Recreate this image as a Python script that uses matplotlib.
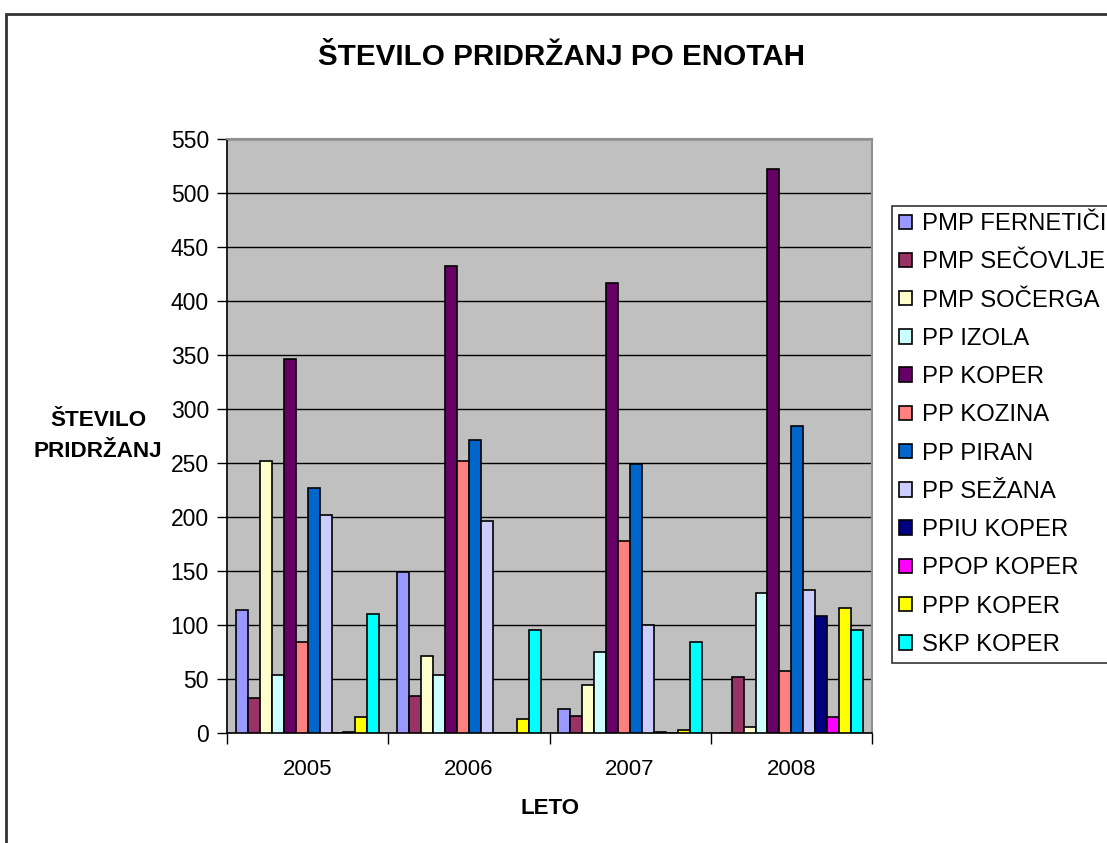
import numpy as np
import matplotlib
matplotlib.use('Agg')
from matplotlib import pyplot as plt
from matplotlib.patches import Rectangle

plt.rcParams['font.family'] = ['Liberation Sans', 'DejaVu Sans']

# Data

years = ['2005', '2006', '2007', '2008']
units = ['PMP FERNETIČI', 'PMP SEČOVLJE', 'PMP SOČERGA', 'PP IZOLA', 'PP KOPER', 'PP KOZINA',
         'PP PIRAN', 'PP SEŽANA', 'PPIU KOPER', 'PPOP KOPER', 'PPP KOPER', 'SKP KOPER']

fernetici = [114, 149, 22, 0]
secovlje = [32, 34, 16, 52]
socerga = [252, 71, 44, 6]
izola = [54, 54, 75, 130]
koper = [346, 432, 417, 522]
kozina = [84, 252, 178, 57]
piran = [227, 271, 249, 284]
sezana = [202, 196, 100, 132]
ppiu = [0, 0, 1, 108]
ppop = [1, 0, 0, 15]
ppp = [15, 13, 3, 116]
skp = [110, 95, 84, 95]

series = [fernetici, secovlje, socerga, izola, koper, kozina, piran, sezana, ppiu, ppop, ppp, skp]
colors = ['#9999FF', '#993366', '#FFFFCC', '#CCFFFF', '#660066', '#FF8080',
          '#0066CC', '#CCCCFF', '#000080', '#FF00FF', '#FFFF00', '#00FFFF']

# Figure

fig = plt.figure(figsize=(11.07, 8.43), dpi=100)
ax = fig.add_axes([227/1107, 1 - 733/843, (872 - 227)/1107, (733 - 139)/843])
ax.set_facecolor('#C0C0C0')

x = np.arange(len(years))
w = 1/13.5
for i in range(len(series)):
    ax.bar(x + (i - 5.5)*w, series[i], width=w, color=colors[i], edgecolor='black',
           linewidth=1.2, label=units[i], zorder=3)

ax.set_xlim(-0.5, 3.5)
ax.set_ylim(0, 550)
ax.set_yticks(np.arange(0, 551, 50))
ax.yaxis.grid(True, color='black', linewidth=1, zorder=1)

ax.set_xticks(np.arange(-0.5, 4, 1))
ax.set_xticklabels([])
ax.set_xticks(x, minor=True)
ax.set_xticklabels(years, minor=True)
ax.tick_params(axis='x', which='major', length=8, direction='out', width=1)
ax.tick_params(axis='x', which='minor', length=0, pad=19, labelsize=16)
ax.tick_params(axis='y', length=7, direction='out', width=1, labelsize=16.5, pad=6)

for s in ['top', 'right']:
    ax.spines[s].set_color('#909090')
    ax.spines[s].set_linewidth(1.5)
for s in ['left', 'bottom']:
    ax.spines[s].set_color('black')
    ax.spines[s].set_linewidth(1.2)

# Titles

fig.text(562/1107, 1 - 57/843, 'ŠTEVILO PRIDRŽANJ PO ENOTAH', ha='center', va='center',
         fontsize=21.3, fontweight='bold')
fig.text(98/1107, 1 - 436/843, 'ŠTEVILO\nPRIDRŽANJ', ha='center', va='center',
         fontsize=16.2, fontweight='bold', linespacing=1.6)
fig.text(550/1107, 1 - 808/843, 'LETO', ha='center', va='center', fontsize=16, fontweight='bold')

# Legend

lgd = fig.legend(loc='upper left', bbox_to_anchor=(892/1107, 1 - 206/843), fontsize=17.2,
                 frameon=True, fancybox=False, edgecolor='black', handlelength=0.55,
                 handleheight=0.55, handletextpad=0.4, labelspacing=0.68, borderpad=0.3,
                 borderaxespad=0)
lgd.get_frame().set_linewidth(1.2)

# Outer chart border
fig.patches.append(Rectangle((6/1107, -0.1), 1.2, 1 - 14/843 + 0.1, transform=fig.transFigure,
                             fill=False, edgecolor='#333333', linewidth=2, zorder=0))

plt.savefig('out.png', dpi=100)
